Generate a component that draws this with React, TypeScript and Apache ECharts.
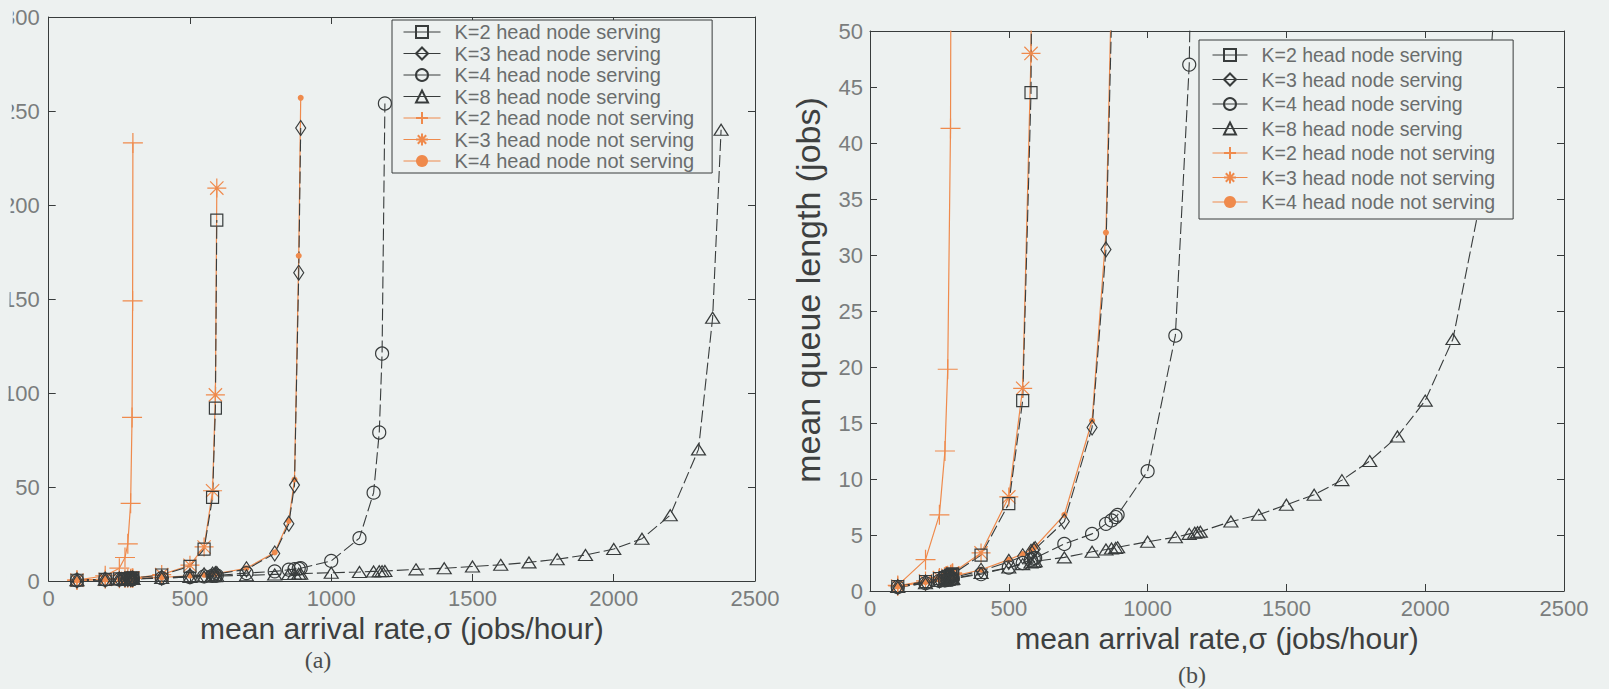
import React, { useEffect, useRef } from "react";
import * as echarts from "echarts";

// ---- palette & fonts ----
const PAGE_BG = "#edf1f0";
const ORANGE = "#ef8a4c";
const INK = "#383c3c";
const TICK_TEXT = "#7a7d7d";
const SANS = "'Liberation Sans', Arial, Helvetica, sans-serif";
const NARROW = "'Liberation Sans Narrow', 'Arial Narrow', 'Liberation Sans', sans-serif";
const SERIF = "'Liberation Serif', 'Times New Roman', serif";

// ---- axis ranges ----
const rateMax = 2500;
const rateStep = 500;
const queueMaxFull = 300;
const queueStepFull = 50;
const queueMaxZoom = 50;
const queueStepZoom = 5;

const xAxisTitle = "mean arrival rate,σ (jobs/hour)";
const yAxisTitle = "mean queue length (jobs)";

const seriesNames = [
  "K=2 head node serving",
  "K=3 head node serving",
  "K=4 head node serving",
  "K=8 head node serving",
  "K=2 head node not serving",
  "K=3 head node not serving",
  "K=4 head node not serving",
];

// ---- measured mean queue length vs. arrival rate ----
// K=2, head node serving
const k2ServingRate = [100, 200, 250, 270, 280, 290, 295, 297, 298, 400, 500, 550, 580, 590, 595];
const k2ServingQueue = [0.4, 0.85, 1.1, 1.2, 1.3, 1.4, 1.45, 1.5, 1.5, 3.2, 7.8, 17, 44.5, 92, 192];

// K=3, head node serving
const k3ServingRate = [100, 200, 250, 270, 280, 290, 295, 297, 298, 400, 500, 550, 580, 590, 595, 700, 800, 850, 870, 885, 892];
const k3ServingQueue = [0.35, 0.75, 0.95, 1.05, 1.1, 1.15, 1.2, 1.2, 1.2, 1.8, 2.6, 3.1, 3.5, 3.65, 3.75, 6.2, 14.6, 30.5, 51, 164, 241];

// K=4, head node serving
const k4ServingRate = [100, 200, 250, 270, 280, 290, 295, 297, 298, 400, 500, 550, 580, 590, 595, 700, 800, 850, 870, 885, 892, 1000, 1100, 1150, 1170, 1180, 1190];
const k4ServingQueue = [0.35, 0.7, 0.9, 0.95, 1.0, 1.05, 1.05, 1.1, 1.1, 1.5, 2.1, 2.5, 2.8, 2.9, 2.95, 4.2, 5.1, 6.0, 6.3, 6.6, 6.8, 10.7, 22.8, 47, 79, 121, 254];

// K=8, head node serving
const k8ServingRate = [100, 200, 250, 270, 280, 290, 295, 297, 298, 400, 500, 550, 580, 590, 595, 700, 800, 850, 870, 885, 892, 1000, 1100, 1150, 1170, 1180, 1190, 1300, 1400, 1500, 1600, 1700, 1800, 1900, 2000, 2100, 2200, 2300, 2350, 2380];
const k8ServingQueue = [0.35, 0.7, 0.9, 0.95, 1.0, 1.05, 1.05, 1.1, 1.1, 1.6, 2.1, 2.4, 2.55, 2.6, 2.65, 3.0, 3.5, 3.7, 3.8, 3.85, 3.9, 4.4, 4.8, 5.1, 5.2, 5.25, 5.3, 6.2, 6.8, 7.7, 8.6, 9.9, 11.6, 13.8, 17.0, 22.5, 35, 70, 140, 240];

// K=2, head node not serving
const k2NotServingRate = [100, 200, 250, 270, 280, 290, 295, 297, 298];
const k2NotServingQueue = [0.5, 2.8, 6.8, 12.5, 19.8, 41.3, 87, 149, 233];

// K=3, head node not serving
const k3NotServingRate = [100, 200, 250, 270, 280, 290, 295, 297, 298, 400, 500, 550, 580, 590, 595];
const k3NotServingQueue = [0.45, 0.9, 1.2, 1.3, 1.4, 1.5, 1.55, 1.6, 1.6, 3.4, 8.4, 18.1, 48, 99, 209];

// K=4, head node not serving
const k4NotServingRate = [100, 200, 250, 270, 280, 290, 295, 297, 298, 400, 500, 550, 580, 590, 595, 700, 800, 850, 870, 885, 892];
const k4NotServingQueue = [0.4, 0.8, 1.0, 1.1, 1.15, 1.2, 1.25, 1.25, 1.3, 1.9, 2.8, 3.3, 3.7, 3.85, 3.95, 6.8, 15.2, 32, 54, 173, 257];

const HOLLOW = "rgba(0,0,0,0)";
const PLUS = "path://M10,0L10,20M0,10L20,10";
const STAR = "path://M10,0L10,20M0,10L20,10M3,3L17,17M3,17L17,3";

type Look = { symbol: string; symbolSize: number | number[]; itemStyle: any; lineStyle: any };

const servingLine = { color: INK, width: 1.1, type: [12, 4] };
const notServingLine = { color: ORANGE, width: 1.2, type: "solid" };
const hollowInk = { color: HOLLOW, borderColor: INK, borderWidth: 1.2 };
const strokeOrange = { color: HOLLOW, borderColor: ORANGE, borderWidth: 1.2 };

const looks: Record<string, Look> = {
  "K=2 head node serving": { symbol: "rect", symbolSize: 12, itemStyle: hollowInk, lineStyle: servingLine },
  "K=3 head node serving": { symbol: "diamond", symbolSize: [10, 15], itemStyle: hollowInk, lineStyle: servingLine },
  "K=4 head node serving": { symbol: "circle", symbolSize: 13, itemStyle: hollowInk, lineStyle: servingLine },
  "K=8 head node serving": { symbol: "triangle", symbolSize: [14, 11], itemStyle: hollowInk, lineStyle: servingLine },
  "K=2 head node not serving": { symbol: PLUS, symbolSize: 20, itemStyle: strokeOrange, lineStyle: notServingLine },
  "K=3 head node not serving": { symbol: STAR, symbolSize: 19, itemStyle: strokeOrange, lineStyle: notServingLine },
  "K=4 head node not serving": { symbol: "circle", symbolSize: 6, itemStyle: { color: ORANGE }, lineStyle: notServingLine },
};

// drawing order: orange curves first, black dashed curves over them
const curves: [string, number[], number[]][] = [
  ["K=2 head node not serving", k2NotServingRate, k2NotServingQueue],
  ["K=3 head node not serving", k3NotServingRate, k3NotServingQueue],
  ["K=4 head node not serving", k4NotServingRate, k4NotServingQueue],
  ["K=2 head node serving", k2ServingRate, k2ServingQueue],
  ["K=3 head node serving", k3ServingRate, k3ServingQueue],
  ["K=4 head node serving", k4ServingRate, k4ServingQueue],
  ["K=8 head node serving", k8ServingRate, k8ServingQueue],
];

function makeSeries(panel: number) {
  return curves.map(([name, rates, queues]) => {
    const look = looks[name];
    return {
      type: "line",
      name,
      xAxisIndex: panel * 2,
      yAxisIndex: panel * 2,
      data: rates.map((r, i) => [r, queues[i]]),
      symbol: look.symbol,
      symbolSize: look.symbolSize,
      showAllSymbol: true,
      itemStyle: look.itemStyle,
      lineStyle: look.lineStyle,
      clip: true,
      silent: true,
      emphasis: { disabled: true },
    };
  });
}

const plainNumber = (v: number) => String(v);
const tickLabel = { fontFamily: NARROW, fontSize: 22, color: TICK_TEXT, formatter: plainNumber };
const axisStroke = { color: INK, width: 1 };

function xAxes(grid: number, labelMargin: number, nameGap: number) {
  return [
    {
      gridIndex: grid,
      type: "value",
      position: "bottom",
      min: 0,
      max: rateMax,
      interval: rateStep,
      axisLine: { show: true, onZero: false, lineStyle: axisStroke },
      axisTick: { show: true, inside: true, length: 7, lineStyle: axisStroke },
      axisLabel: { ...tickLabel, margin: labelMargin },
      splitLine: { show: false },
      name: xAxisTitle,
      nameLocation: "middle",
      nameGap,
      nameTextStyle: { fontFamily: SANS, fontSize: 30, color: "#3d4040" },
    },
    {
      gridIndex: grid,
      type: "value",
      position: "top",
      min: 0,
      max: rateMax,
      interval: rateStep,
      axisLine: { show: true, onZero: false, lineStyle: axisStroke },
      axisTick: { show: true, inside: true, length: 7, lineStyle: axisStroke },
      axisLabel: { show: false },
      splitLine: { show: false },
    },
  ];
}

function yAxes(grid: number, max: number, step: number, labelMargin: number) {
  return [
    {
      gridIndex: grid,
      type: "value",
      position: "left",
      min: 0,
      max,
      interval: step,
      axisLine: { show: true, onZero: false, lineStyle: axisStroke },
      axisTick: { show: true, inside: true, length: 7, lineStyle: axisStroke },
      axisLabel: { ...tickLabel, margin: labelMargin },
      splitLine: { show: false },
    },
    {
      gridIndex: grid,
      type: "value",
      position: "right",
      min: 0,
      max,
      interval: step,
      axisLine: { show: true, onZero: false, lineStyle: axisStroke },
      axisTick: { show: true, inside: true, length: 7, lineStyle: axisStroke },
      axisLabel: { show: false },
      splitLine: { show: false },
    },
  ];
}

function legendBox(left: number, top: number, itemWidth: number, gap: number, fontSize: number, padding: number[]) {
  return {
    data: seriesNames,
    orient: "vertical",
    left,
    top,
    itemWidth,
    itemHeight: 15,
    itemGap: gap,
    padding,
    backgroundColor: PAGE_BG,
    borderColor: INK,
    borderWidth: 1,
    borderRadius: 0,
    selectedMode: false,
    lineStyle: { type: "solid", width: 1 },
    textStyle: { fontFamily: SANS, fontSize, color: "#6a6d6d", padding: [0, 0, 0, 9] },
  };
}

export default function App() {
  const ref = useRef<HTMLDivElement>(null);

  useEffect(() => {
    if (!ref.current) return;
    const chart = echarts.init(ref.current, null, { renderer: "svg" });
    chart.setOption({
      animation: false,
      backgroundColor: PAGE_BG,
      grid: [
        { left: 44, top: 17, width: 711, height: 564, containLabel: false },
        { left: 870, top: 31, width: 694, height: 560, containLabel: false },
      ],
      xAxis: [...xAxes(0, 6, 31), ...xAxes(1, 6, 29)],
      yAxis: [...yAxes(0, queueMaxFull, queueStepFull, 9), ...yAxes(1, queueMaxZoom, queueStepZoom, 7)],
      legend: [
        legendBox(392, 20, 37, 1.5, 20, [2, 18, 2, 11]),
        legendBox(1199, 40, 35, 4.5, 19.5, [5, 18, 7, 13]),
      ],
      series: [...makeSeries(0), ...makeSeries(1)],
      graphic: [
        {
          type: "text",
          x: 808,
          y: 290,
          rotation: Math.PI / 2,
          style: {
            text: yAxisTitle,
            fontFamily: SANS,
            fontSize: 34,
            fill: "#3d4040",
            align: "center",
            verticalAlign: "middle",
          },
          silent: true,
        },
        {
          type: "text",
          x: 318,
          y: 660,
          style: { text: "(a)", fontFamily: SERIF, fontSize: 24, fill: "#4a4d4d", align: "center", verticalAlign: "middle" },
          silent: true,
        },
        {
          type: "text",
          x: 1192,
          y: 675,
          style: { text: "(b)", fontFamily: SERIF, fontSize: 24, fill: "#4a4d4d", align: "center", verticalAlign: "middle" },
          silent: true,
        },
        {
          // torn left margin of the page
          type: "polygon",
          shape: { points: [[0, 0], [13, 0], [5, 689], [0, 689]] },
          style: { fill: PAGE_BG },
          z: 100,
          silent: true,
        },
      ],
    });
    return () => chart.dispose();
  }, []);

  return (
    <div
      ref={ref}
      style={{ position: "absolute", left: 0, top: 0, width: 1609, height: 689, background: PAGE_BG }}
    />
  );
}
